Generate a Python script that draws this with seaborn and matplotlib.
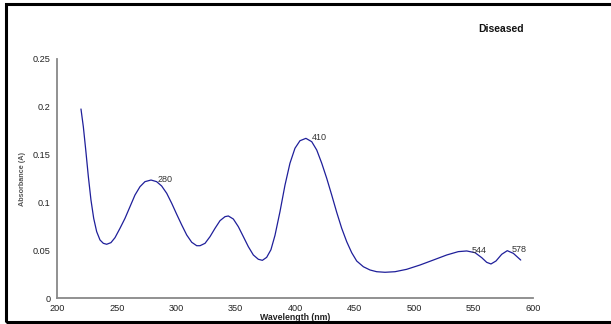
import matplotlib
matplotlib.use("Agg")
import matplotlib.pyplot as plt
import seaborn as sns
import pandas as pd
from matplotlib.patches import Rectangle

wavelength = [219.9, 221.9, 223.9, 226.1, 228.3, 230.6, 233.1, 235.9, 238.7, 241.5,
              245.1, 248.5, 252.7, 256.9, 261.1, 265.3, 269.5, 273.7, 278.8, 283.5,
              287.7, 292.0, 296.2, 300.4, 304.6, 308.8, 313.0, 317.2, 320.0, 324.2,
              328.4, 332.6, 336.8, 341.0, 343.8, 348.0, 352.2, 356.4, 360.6, 364.8,
              369.0, 372.4, 376.0, 379.6, 383.0, 387.2, 391.4, 395.6, 399.8, 404.0,
              409.0, 413.9, 418.1, 422.3, 426.5, 430.7, 434.9, 439.1, 443.3, 447.5,
              451.7, 457.3, 462.9, 468.5, 475.5, 483.9, 493.7, 504.9, 516.1, 527.4,
              537.1, 544.2, 551.2, 556.8, 561.0, 564.6, 568.8, 573.6, 578.3, 583.4,
              589.6]
absorbance = [0.1977, 0.179, 0.155, 0.127, 0.1025, 0.0833, 0.0694, 0.0607, 0.0572, 0.0562,
              0.0579, 0.0631, 0.0729, 0.0833, 0.0955, 0.1077, 0.1164, 0.1217, 0.1234, 0.1217,
              0.1172, 0.1095, 0.099, 0.0875, 0.0764, 0.0659, 0.0583, 0.0547, 0.0547, 0.0572,
              0.0642, 0.0729, 0.0809, 0.0851, 0.0858, 0.0826, 0.0746, 0.0642, 0.0537, 0.045,
              0.0405, 0.0394, 0.0425, 0.0505, 0.0655, 0.0903, 0.118, 0.141, 0.1566, 0.1645,
              0.167, 0.1635, 0.1548, 0.141, 0.1252, 0.1077, 0.0896, 0.0729, 0.0589, 0.0474,
              0.0387, 0.0327, 0.0293, 0.0275, 0.0269, 0.0275, 0.030, 0.0345, 0.0397, 0.045,
              0.0485, 0.0492, 0.0474, 0.0422, 0.0373, 0.0356, 0.0387, 0.0457, 0.0495, 0.0467,
              0.0397]

peak_labels = ["280", "410", "544", "578"]
peak_x = [280, 410, 544, 578]
peak_y = [0.1234, 0.167, 0.0485, 0.0495]

xticks = [200, 250, 300, 350, 400, 450, 500, 550, 600]
yticks = [0, 0.05, 0.1, 0.15, 0.2, 0.25]
ytick_labels = ["0", "0.05", "0.1", "0.15", "0.2", "0.25"]

sns.set_style("white")
plt.rcParams['font.family'] = ['Liberation Sans', 'DejaVu Sans']

fig = plt.figure(figsize=(6.11, 3.24), dpi=100)
ax = fig.add_axes([57.3/611, 1-298/324, (533.1-57.3)/611, (298-59)/324])

df = pd.DataFrame({"wl": wavelength, "A": absorbance})
sns.lineplot(data=df, x="wl", y="A", ax=ax, color="#1f1f9a", linewidth=0.9, sort=False)

for lab, px, py in zip(peak_labels, peak_x, peak_y):
    ax.annotate(lab, (px, py), xytext=(3.5, 0.5), textcoords="offset points",
                fontsize=6.5, color="#333333", va="center", ha="left")

ax.set_xlim(200, 600)
ax.set_ylim(0, 0.25)
ax.set_xticks(xticks)
ax.set_xticklabels([str(t) for t in xticks])
ax.set_yticks(yticks)
ax.set_yticklabels(ytick_labels)
for s in ["top", "right"]:
    ax.spines[s].set_visible(False)
for s in ["left", "bottom"]:
    ax.spines[s].set_color("#888888")
    ax.spines[s].set_linewidth(1.3)
ax.tick_params(axis="both", direction="out", length=3, width=1, color="#888888",
               labelsize=6.6, labelcolor="#222222", pad=2)
ax.tick_params(axis="x", pad=1.5)
ax.set_xlabel("Wavelength (nm)", fontsize=6.3, fontweight="bold", color="#222222", labelpad=0)
ax.set_ylabel("Absorbance (A)", fontsize=5.2, fontweight="bold", color="#555555", labelpad=5)

fig.text(501.5/611, 1-29/324, "Diseased", fontsize=7.5, fontweight="bold",
         ha="center", va="center", color="#111111")

fig.patches.append(Rectangle((6/611, 2/324), 1.2, 318/324,
                             transform=fig.transFigure, fill=False,
                             edgecolor="black", linewidth=2.2))

fig.savefig("out.png", dpi=100)
